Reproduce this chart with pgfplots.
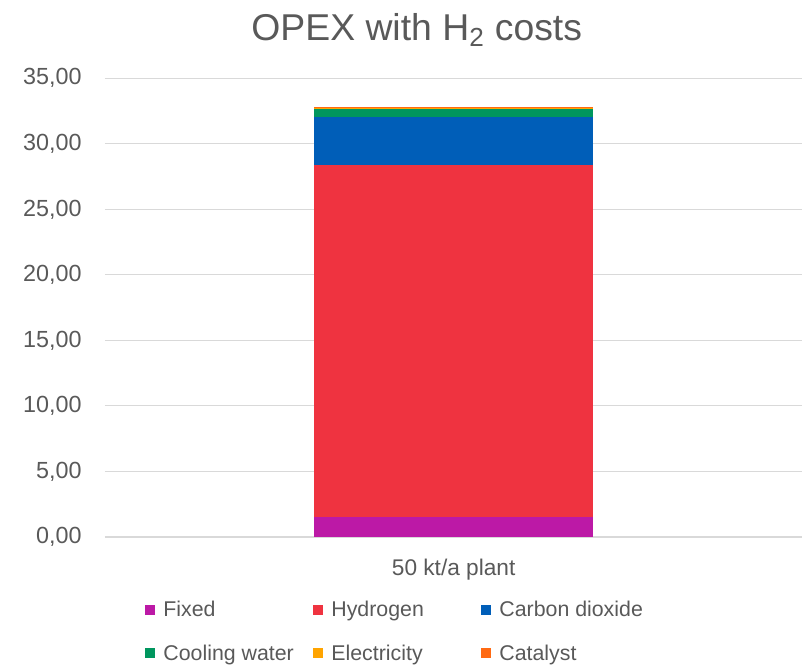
\documentclass[border=0pt]{standalone}
\usepackage{pgfplots}
\pgfplotsset{compat=1.18}
\usepackage{fontspec}
\setmainfont{Liberation Sans}
\definecolor{cFixed}{HTML}{BC19A6}
\definecolor{cHyd}{HTML}{EF3340}
\definecolor{cCO2}{HTML}{005EB8}
\definecolor{cCool}{HTML}{00965E}
\definecolor{cElec}{HTML}{FFA400}
\definecolor{cCat}{HTML}{FF6A13}
\definecolor{txt}{HTML}{595959}
\definecolor{gridc}{HTML}{D9D9D9}
\begin{document}
\begin{tikzpicture}
\path[use as bounding box] (-105*0.75pt,-128*0.75pt) rectangle (701*0.75pt,537*0.75pt);
\begin{axis}[
  at={(0,0)}, anchor=south west,
  scale only axis,
  width=523pt, height=344pt,
  ybar stacked,
  bar width=0.8,
  xmin=-1, xmax=1,
  ymin=0, ymax=35,
  ytick={0,5,...,35},
  xtick={0}, xticklabels={50 kt/a plant},
  xtick pos=bottom, ytick pos=left,
  axis line style={draw=none},
  major tick length=0pt,
  major tick style={draw=none},
  ymajorgrids, xmajorgrids=false,
  grid style={draw=gridc, line width=0.8pt},
  tick label style={font=\fontsize{17.5}{20}\selectfont, text=txt},
  xticklabel style={font=\fontsize{17}{20}\selectfont},
  yticklabel style={/pgf/number format/.cd, fixed, fixed zerofill, precision=2, use comma, assume math mode=true},
  yticklabel shift=14pt,
  xticklabel shift=13pt,
  title={OPEX with H\textsubscript{2} costs},
  title style={at={(0.447,1)}, anchor=south, font=\fontsize{28}{32}\selectfont, text=txt, yshift=14pt},
  legend columns=3,
  legend style={at={(0.057,-0.134)}, anchor=north west, draw=none, font=\fontsize{16}{19}\selectfont, text=txt,
    /tikz/every even column/.append style={column sep=0pt},
    /tikz/every odd column/.append style={column sep=0pt},
    row sep=15.5pt, inner sep=0pt, outer sep=0pt},
  legend cell align=left,
  legend image code/.code={\fill[#1,draw=none] (0pt,-3.75pt) rectangle (7.5pt,3.75pt);\path (12pt,0pt);},
]
\addplot[fill=cFixed, draw=none] coordinates {(0,1.55)};
\addplot[fill=cHyd, draw=none] coordinates {(0,26.87)};
\addplot[fill=cCO2, draw=none] coordinates {(0,3.64)};
\addplot[fill=cCool, draw=none] coordinates {(0,0.63)};
\addplot[fill=cElec, draw=none] coordinates {(0,0.02)};
\addplot[fill=cCat, draw=none] coordinates {(0,0.08)};
\legend{\makebox[110pt][l]{Fixed},\makebox[110pt][l]{Hydrogen},Carbon dioxide,\makebox[110pt][l]{Cooling water},\makebox[110pt][l]{Electricity},Catalyst}
\end{axis}
\end{tikzpicture}
\end{document}
